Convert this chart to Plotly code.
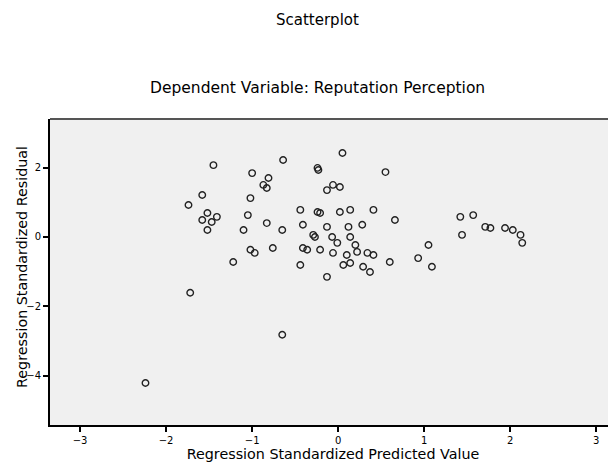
import plotly.graph_objects as go

title_text = "Scatterplot"
subtitle_text = "Dependent Variable: Reputation Perception"
x_title = "Regression Standardized Predicted Value"
y_title = "Regression Standardized Residual"

x_ticks = [-3, -2, -1, 0, 1, 2, 3]
y_ticks = [2, 0, -2, -4]

pred = [-2.24, -1.72, -0.65, -1.45, -1.00, -0.81, -0.83, -0.64, -0.24, -1.58,
        -1.74, -1.02, -1.52, -1.41, -1.58, -1.52, -1.05, -0.83, -0.65, -1.10,
        -0.44, -0.41, -0.24, -0.27, -1.02, -0.97, -0.76, -0.36, -1.22, -0.44,
        0.05, -0.23, 0.55, -0.06, -0.13, 0.02, -0.21, 0.02, 0.14, 0.41,
        0.66, -0.13, 0.12, 0.28, -0.29, -0.07, 0.14, 1.42, 1.57, 1.71,
        1.77, 1.94, 2.03, 2.12, 2.14, 1.44, 1.05, 0.93, 1.09, 0.60,
        -0.41, -0.06, 0.10, 0.22, 0.34, 0.41, 0.14, 0.29, 0.37, -0.13,
        -0.21, -0.01, 0.06, 0.20, -1.47, -0.87]
resid = [-4.21, -1.61, -2.82, 2.07, 1.84, 1.70, 1.41, 2.22, 1.99, 1.21,
         0.92, 1.12, 0.69, 0.58, 0.49, 0.20, 0.63, 0.40, 0.20, 0.20,
         0.78, 0.35, 0.72, 0.00, -0.37, -0.46, -0.32, -0.37, -0.72, -0.81,
         2.42, 1.93, 1.87, 1.50, 1.35, 1.44, 0.69, 0.72, 0.78, 0.78,
         0.49, 0.29, 0.29, 0.35, 0.06, 0.00, 0.00, 0.58, 0.63, 0.29,
         0.26, 0.26, 0.20, 0.06, -0.17, 0.06, -0.23, -0.61, -0.86, -0.72,
         -0.32, -0.46, -0.52, -0.43, -0.46, -0.52, -0.75, -0.86, -1.01, -1.15,
         -0.37, -0.17, -0.81, -0.23, 0.43, 1.50]

FONT = "DejaVu Sans"

fig = go.Figure()
fig.add_trace(go.Scatter(
    x=pred, y=resid, mode="markers",
    marker=dict(symbol="circle-open", size=6.5, color="#222222", line=dict(width=1.4)),
    showlegend=False, hoverinfo="skip"))

fig.update_layout(
    width=608, height=455,
    margin=dict(l=42, r=0, t=111, b=38),
    paper_bgcolor="white", plot_bgcolor="#f0f0f0",
    font=dict(family=FONT, size=11, color="black"),
    xaxis=dict(range=[-3.35, 3.23], tickvals=x_ticks, showgrid=False, zeroline=False,
               automargin=False,
               showline=True, linecolor="black", linewidth=2,
               ticks="outside", ticklen=5, tickwidth=2, tickcolor="black",
               tickfont=dict(size=10),
               title=dict(text=x_title, font=dict(size=14.3), standoff=4)),
    yaxis=dict(range=[-5.42, 3.40], tickvals=y_ticks, showgrid=False, zeroline=False,
               automargin=False,
               showline=True, linecolor="black", linewidth=2,
               ticks="outside", ticklen=5, tickwidth=2, tickcolor="black",
               tickfont=dict(size=10)),
    shapes=[dict(type="line", xref="paper", yref="paper", x0=0, x1=1, y0=1, y1=1,
                 line=dict(color="#555555", width=2))],
    annotations=[
        dict(text=title_text, xref="paper", yref="paper", x=0.473, y=1,
             xanchor="center", yanchor="middle", showarrow=False,
             yshift=99, font=dict(size=15)),
        dict(text=subtitle_text, xref="paper", yref="paper", x=0.473, y=1,
             xanchor="center", yanchor="middle", showarrow=False,
             yshift=31, font=dict(size=15.5)),
        dict(text=y_title, xref="paper", yref="paper", x=0, y=0.5,
             xanchor="center", yanchor="middle", showarrow=False, textangle=-90,
             xshift=-28, yshift=5, font=dict(size=14.3)),
    ],
)

fig.write_html("out.html")
